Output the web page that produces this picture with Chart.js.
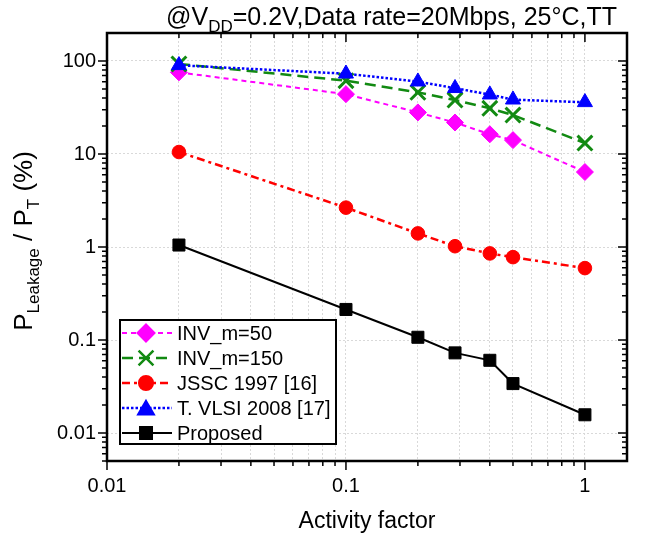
<!DOCTYPE html>
<html>
<head>
<meta charset="utf-8">
<script src="https://cdn.jsdelivr.net/npm/chart.js@4.4.0/dist/chart.umd.min.js"></script>
<style>
  html, body { margin: 0; padding: 0; background: #fff; }
  #wrap { width: 652px; height: 538px; }
</style>
</head>
<body>
<div id="wrap"><canvas id="leakChart" width="652" height="538"></canvas></div>
<script>
// activity factor (x) and leakage share in % (y)
const activity = [0.02, 0.1, 0.2, 0.286, 0.4, 0.5, 1];
const invM50 = [75.5, 44, 28, 21.8, 16.3, 14.1, 6.4];
const invM150 = [93, 61.4, 46, 38, 31, 26.2, 13.1];
const jssc1997 = [10.5, 2.65, 1.40, 1.02, 0.853, 0.778, 0.593];
const tvlsi2008 = [90, 73, 60, 51, 43.5, 38.4, 36];
const proposed = [1.05, 0.213, 0.107, 0.0727, 0.0605, 0.034, 0.0157];

const seriesNames = ['INV_m=50', 'INV_m=150', 'JSSC 1997 [16]', 'T. VLSI 2008 [17]', 'Proposed'];

const xTickValues = [0.01, 0.1, 1];
const xTickLabels = ['0.01', '0.1', '1'];
const yTickValues = [0.01, 0.1, 1, 10, 100];
const yTickLabels = ['0.01', '0.1', '1', '10', '100'];

const FONT = '"Liberation Sans", Arial, sans-serif';

const toPoints = ys => activity.map((x, i) => ({ x: x, y: ys[i] }));

// all log ticks 1..9 per decade inside the range
function logTicks(min, max) {
    const out = [];
    for (let e = -4; e <= 3; e++) {
        for (let m = 1; m <= 9; m++) {
            const v = m * Math.pow(10, e);
            if (v >= min * 0.999 && v <= max * 1.001) out.push(+v.toPrecision(3));
        }
    }
    return out;
}
const isDecade = v => Math.abs(Math.log10(v) - Math.round(Math.log10(v))) < 1e-6;

const datasets = [
    { label: seriesNames[0], data: toPoints(invM50), borderColor: '#ff00ff', backgroundColor: '#ff00ff',
      borderDash: [5, 4], borderWidth: 2, pointStyle: 'rectRot', pointRadius: 8.5, pointBorderWidth: 1, order: 2 },
    { label: seriesNames[1], data: toPoints(invM150), borderColor: '#128a12', backgroundColor: '#128a12',
      borderDash: [11, 6], borderWidth: 2.5, pointStyle: 'crossRot', pointRadius: 10.5, pointBorderWidth: 3, order: 1 },
    { label: seriesNames[2], data: toPoints(jssc1997), borderColor: '#ff0000', backgroundColor: '#ff0000',
      borderDash: [8, 4, 3, 4], borderWidth: 2.5, pointStyle: 'circle', pointRadius: 6.8, pointBorderWidth: 1, order: 3 },
    { label: seriesNames[3], data: toPoints(tvlsi2008), borderColor: '#0000ff', backgroundColor: '#0000ff',
      borderDash: [2.5, 2], borderWidth: 2.5, pointStyle: 'triangle', pointRadius: 8.7, pointBorderWidth: 1, order: 0 },
    { label: seriesNames[4], data: toPoints(proposed), borderColor: '#000000', backgroundColor: '#000000',
      borderDash: [], borderWidth: 2, pointStyle: 'rect', pointRadius: 8.5, pointBorderWidth: 1, order: 4 }
];
datasets.forEach(d => {
    d.pointBackgroundColor = d.backgroundColor;
    d.pointBorderColor = d.borderColor;
    d.pointHoverRadius = d.pointRadius;
    d.tension = 0;
});

// frame, mirrored ticks, legend box and texts with subscripts
const decorPlugin = {
    id: 'decor',
    afterDraw(chart) {
        const ctx = chart.ctx;
        const a = chart.chartArea;
        const xs = chart.scales.x, ys = chart.scales.y;
        ctx.save();
        ctx.strokeStyle = '#000';
        ctx.lineWidth = 1.5;
        ctx.setLineDash([]);
        ctx.beginPath();
        xs.ticks.forEach(t => {
            const px = xs.getPixelForValue(t.value);
            const len = isDecade(t.value) ? 9 : 5;
            ctx.moveTo(px, a.bottom); ctx.lineTo(px, a.bottom + len);
            ctx.moveTo(px, a.top); ctx.lineTo(px, a.top + len);
        });
        ys.ticks.forEach(t => {
            const py = ys.getPixelForValue(t.value);
            const len = isDecade(t.value) ? 9 : 5;
            ctx.moveTo(a.left, py); ctx.lineTo(a.left - len, py);
            ctx.moveTo(a.right, py); ctx.lineTo(a.right - len, py);
        });
        ctx.stroke();
        ctx.lineWidth = 2.5;
        ctx.strokeRect(a.left, a.top, a.right - a.left, a.bottom - a.top);

        // legend
        const lx = 120, ly = 320, lw = 216, lh = 124;
        ctx.fillStyle = '#fff';
        ctx.fillRect(lx, ly, lw, lh);
        ctx.lineWidth = 2;
        ctx.strokeRect(lx, ly, lw, lh);
        chart.data.datasets.forEach((d, i) => {
            const cy = ly + 13 + i * 25;
            ctx.save();
            ctx.strokeStyle = d.borderColor;
            ctx.lineWidth = d.borderWidth;
            ctx.setLineDash(d.borderDash);
            ctx.beginPath();
            ctx.moveTo(lx + 2, cy); ctx.lineTo(lx + 52, cy);
            ctx.stroke();
            ctx.setLineDash([]);
            ctx.fillStyle = d.backgroundColor;
            ctx.strokeStyle = d.borderColor;
            Chart.helpers.drawPoint(ctx, { pointStyle: d.pointStyle, radius: d.pointRadius,
                borderWidth: d.pointBorderWidth, rotation: 0 }, lx + 26, cy + (d.pointStyle === 'triangle' ? 2 : 0));
            ctx.restore();
            ctx.fillStyle = '#000';
            ctx.font = '20px ' + FONT;
            ctx.textBaseline = 'middle';
            ctx.textAlign = 'left';
            ctx.fillText(d.label, lx + 57, cy + 1);
        });

        // x title
        ctx.fillStyle = '#000';
        ctx.font = '23px ' + FONT;
        ctx.textAlign = 'center';
        ctx.textBaseline = 'alphabetic';
        ctx.fillText('Activity factor', (a.left + a.right) / 2, 528);

        // top note with subscript
        const big = '25px ' + FONT, small = '17px ' + FONT;
        const parts = [['@V', big, 0], ['DD', small, 7], ['=0.2V,Data rate=20Mbps, 25\u00b0C,TT', big, 0]];
        ctx.textAlign = 'left';
        let w = 0;
        parts.forEach(p => { ctx.font = p[1]; w += ctx.measureText(p[0]).width; });
        let tx = 617 - w;
        parts.forEach(p => { ctx.font = p[1]; ctx.fillText(p[0], tx, 25 + p[2]); tx += ctx.measureText(p[0]).width; });

        // y title, rotated
        const yparts = [['P', '26px ' + FONT, 0], ['Leakage', '17px ' + FONT, 7], [' / P', '26px ' + FONT, 0],
                        ['T', '17px ' + FONT, 7], [' (%)', '26px ' + FONT, 0]];
        let yw = 0;
        yparts.forEach(p => { ctx.font = p[1]; yw += ctx.measureText(p[0]).width; });
        ctx.translate(32, 241);
        ctx.rotate(-Math.PI / 2);
        let ox = -yw / 2;
        yparts.forEach(p => { ctx.font = p[1]; ctx.fillText(p[0], ox, p[2]); ox += ctx.measureText(p[0]).width; });
        ctx.restore();
    }
};

new Chart(document.getElementById('leakChart'), {
    type: 'line',
    data: { datasets: datasets },
    options: {
        responsive: false,
        animation: false,
        layout: { padding: { top: 33, right: 25, left: 0, bottom: 0 } },
        scales: {
            x: {
                type: 'logarithmic',
                min: 0.01,
                max: 1.5,
                afterBuildTicks: s => { s.ticks = logTicks(0.01, 1).map(v => ({ value: v })); },
                afterFit: s => { s.height = 77; },
                grid: { color: '#d9d9d9', lineWidth: 1, drawTicks: false },
                border: { display: false, dash: [2, 2] },
                ticks: {
                    padding: 13,
                    color: '#000',
                    font: { family: FONT, size: 20 },
                    autoSkip: false,
                    maxRotation: 0,
                    callback: v => { const k = xTickValues.findIndex(t => Math.abs(t - v) < 1e-9); return k >= 0 ? xTickLabels[k] : ''; }
                }
            },
            y: {
                type: 'logarithmic',
                min: 0.005,
                max: 200,
                afterBuildTicks: s => { s.ticks = logTicks(0.005, 100).map(v => ({ value: v })); },
                afterFit: s => { s.width = 107; },
                grid: { color: c => (c.tick && isDecade(c.tick.value)) ? '#d9d9d9' : 'rgba(0,0,0,0)', lineWidth: 1, drawTicks: false },
                border: { display: false, dash: [2, 2] },
                ticks: {
                    padding: 11,
                    color: '#000',
                    font: { family: FONT, size: 20 },
                    autoSkip: false,
                    callback: v => { const k = yTickValues.findIndex(t => Math.abs(t - v) < 1e-12); return k >= 0 ? yTickLabels[k] : ''; }
                }
            }
        },
        plugins: {
            legend: { display: false },
            title: { display: false },
            tooltip: { enabled: false }
        }
    },
    plugins: [decorPlugin]
});
</script>
</body>
</html>
